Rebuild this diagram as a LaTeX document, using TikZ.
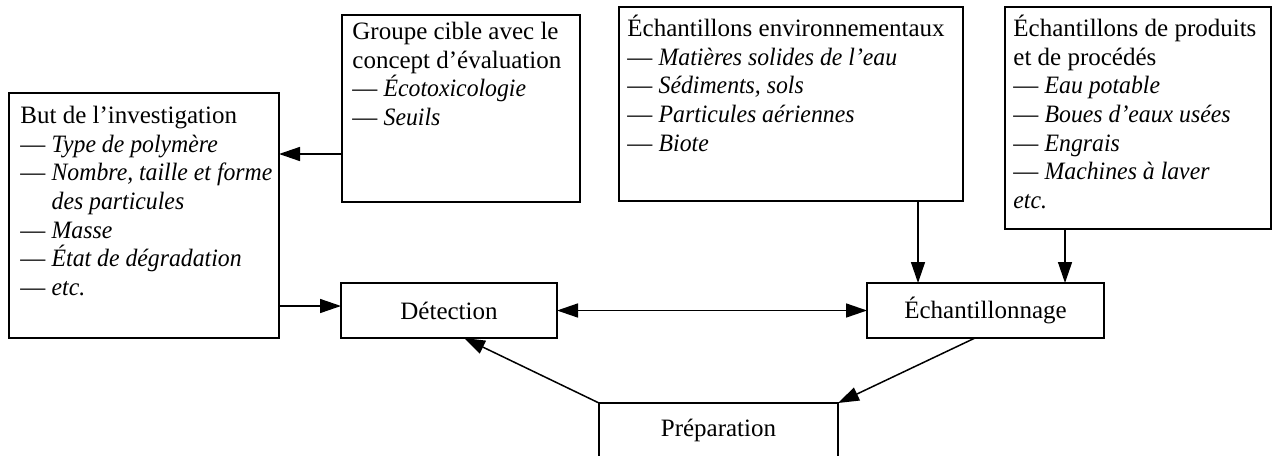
\documentclass[tikz,border=0pt]{standalone}
\usepackage{fontspec}
\setmainfont{Liberation Serif}[ItalicFeatures={FakeStretch=0.95}]
\usetikzlibrary{arrows.meta, calc}
\tikzset{
  box/.style={draw, line width=0.85pt, inner sep=0pt, outer sep=0pt, anchor=north west, font=\fontsize{12.5}{14.35}\selectfont},
  txt/.style={anchor=north west, inner sep=0pt, align=left, font=\fontsize{12.5}{14.35}\selectfont},
  arr/.style={line width=0.75pt, -{Triangle[length=10.5pt,width=7pt]}},
  dblarr/.style={line width=0.75pt, {Triangle[length=10.5pt,width=7pt]}-{Triangle[length=10.5pt,width=7pt]}}
}
\newcommand{\lnstart}{\rule{0pt}{12pt}}
\newcommand{\ind}{\hphantom{— }}

\begin{document}
\begin{tikzpicture}[x=0.5pt, y=-0.5pt]
        \useasboundingbox (0,0) rectangle (1277,455);
        \clip (0,0) rectangle (1277,455);

        % But de l'investigation
        \node[box, minimum width=135pt, minimum height=122.5pt] (but) at (9,93) {};
        \node[txt] (but-txt) at ($(but.north west)+(11,6)$) {\lnstart But de l’investigation\\
            — \textit{Type de polymère}\\
            — \textit{Nombre, taille et forme}\\
            \ind\textit{des particules}\\
            — \textit{Masse}\\
            — \textit{État de dégradation}\\
            — \textit{etc.}};

        % Groupe cible
        \node[box, minimum width=119pt, minimum height=93.5pt] (cible) at (342,15) {};
        \node[txt] (cible-txt) at ($(cible.north west)+(10,0)$) {\lnstart Groupe cible avec le\\
            concept d’évaluation\\
            — \textit{Écotoxicologie}\\
            — \textit{Seuils}};

        % Echantillons environnementaux
        \node[box, minimum width=172pt, minimum height=97pt] (env) at (619,7) {};
        \node[txt] (env-txt) at ($(env.north west)+(8,5)$) {\lnstart Échantillons environnementaux\\
            — \textit{Matières solides de l’eau}\\
            — \textit{Sédiments, sols}\\
            — \textit{Particules aériennes}\\
            — \textit{Biote}};

        % Echantillons de produits
        \node[box, minimum width=133pt, minimum height=111pt] (prod) at (1005,7) {};
        \node[txt] (prod-txt) at ($(prod.north west)+(8,5)$) {\lnstart Échantillons de produits\\
            et de procédés\\
            — \textit{Eau potable}\\
            — \textit{Boues d’eaux usées}\\
            — \textit{Engrais}\\
            — \textit{Machines à laver}\\
            \textit{etc.}};

        % Cycle
        \node[box, minimum width=108pt, minimum height=27.5pt] (det) at (341,283) {Détection};
        \node[box, minimum width=118.5pt, minimum height=27.5pt] (ech) at (867,283) {Échantillonnage};
        \node[box, minimum width=119.5pt, minimum height=27.5pt] (prep) at (599,403) {Préparation};

        % Fleches
        \draw[arr] ($(cible.south west)+(0,-48)$) -- ($(but.north east)+(0,61)$);
        \draw[arr] ($(but.south east)+(0,-32)$) -- ($(det.south west)+(0,-32)$);
        \draw[dblarr] (det.east) -- (ech.west);
        \draw[arr] ($(env.south west)+(299,0)$) -- ($(ech.north west)+(51,0)$);
        \draw[arr] ($(prod.south west)+(60,0)$) -- ($(ech.north east)+(-39,0)$);
        \draw[arr] ($(ech.south west)+(108,0)$) -- (prep.north east);
        \draw[arr] (prep.north west) -- ($(det.south west)+(123,0)$);
\end{tikzpicture}
\end{document}
